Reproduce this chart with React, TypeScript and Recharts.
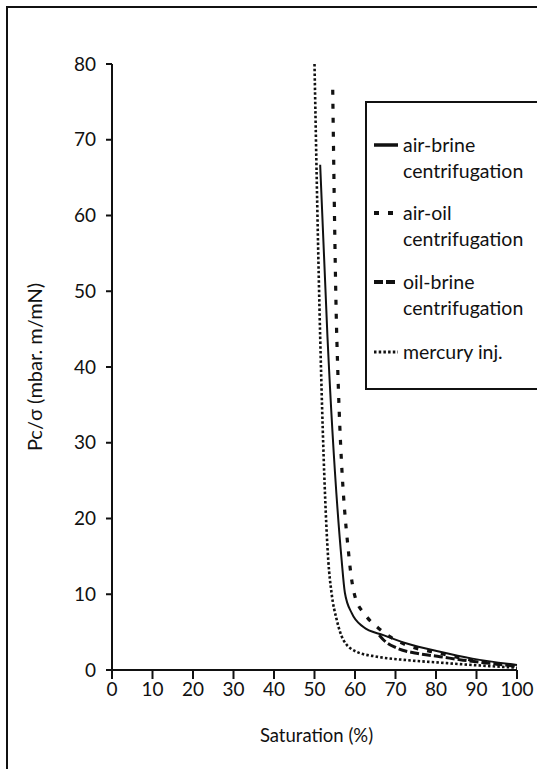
import React from 'react';
import { LineChart, Line, XAxis, YAxis } from 'recharts';

// Saturation (%) and Pc/σ values
const airBrineSw = [51.4, 53.2, 56.7, 57.5, 59.2, 62, 67, 72.8, 81, 89, 100];
const airBrinePc = [66.7, 44, 14.5, 10.2, 7.5, 5.7, 4.6, 3.5, 2.4, 1.5, 0.66];

const airOilSw = [54.5, 55.5, 58.6, 60, 62.5, 65.4, 68.6, 72.7, 81, 89, 100];
const airOilPc = [76.6, 44, 14.5, 9.7, 7.3, 5.7, 4.4, 3.3, 2.2, 1.3, 0.5];

const oilBrineSw = [66, 67, 70.3, 75.2, 81, 86.7, 93.3, 100];
const oilBrinePc = [4.6, 4.0, 2.9, 2.2, 1.76, 1.3, 0.88, 0.5];

const mercurySw = [50.0, 51.4, 53.4, 54.2, 55.5, 57.1, 60.4, 65.4, 72.8, 81, 89, 100];
const mercuryPc = [80, 44, 14.5, 10.2, 6.6, 4.0, 2.4, 1.76, 1.3, 0.97, 0.66, 0.3];

const xTicks = [0, 10, 20, 30, 40, 50, 60, 70, 80, 90, 100];
const yTicks = [0, 10, 20, 30, 40, 50, 60, 70, 80];

const seriesNames = ['air-brine', 'air-oil', 'oil-brine', 'mercury inj.'];
const seriesSubtitles = ['centrifugation', 'centrifugation', 'centrifugation', ''];

const zip = (sw: number[], pc: number[]) => sw.map((s, i) => ({ s, pc: pc[i] }));

const FONT = 'Lato, "Open Sans", sans-serif';
const INK = '#111';

const series = [
  { name: seriesNames[0], sub: seriesSubtitles[0], data: zip(airBrineSw, airBrinePc), dash: undefined as string | undefined, width: 2 },
  { name: seriesNames[1], sub: seriesSubtitles[1], data: zip(airOilSw, airOilPc), dash: '5 9', width: 3.2 },
  { name: seriesNames[2], sub: seriesSubtitles[2], data: zip(oilBrineSw, oilBrinePc), dash: '9 3', width: 3 },
  { name: seriesNames[3], sub: seriesSubtitles[3], data: zip(mercurySw, mercuryPc), dash: '2.5 2.2', width: 2.6 },
];

const legendTops = [29, 97, 166, 236];

export default function App() {
  return (
    <div style={{ position: 'absolute', left: 0, top: 0, width: 537, height: 769, background: '#fff', overflow: 'hidden', fontFamily: FONT }}>
      <div style={{ position: 'absolute', left: 6, top: 6, width: 560, height: 800, borderLeft: `2px solid ${INK}`, borderTop: `2px solid ${INK}` }} />
      <LineChart width={537} height={769} margin={{ top: 64, right: 20, bottom: 0, left: 0 }}>
        <XAxis
          type="number"
          dataKey="s"
          domain={[0, 100]}
          ticks={xTicks}
          interval={0}
          height={99}
          stroke={INK}
          strokeWidth={2}
          tickSize={9}
          tickMargin={4}
          tick={{ fill: INK, fontSize: 19, fontFamily: FONT }}
          allowDuplicatedCategory={false}
          label={{ value: 'Saturation (%)', position: 'insideBottom', offset: 27, dx: 2, style: { fill: INK, fontSize: 18.5, fontFamily: FONT } }}
        />
        <YAxis
          type="number"
          dataKey="pc"
          domain={[0, 80]}
          ticks={yTicks}
          interval={0}
          width={112}
          stroke={INK}
          strokeWidth={2}
          tickSize={6}
          tickMargin={10}
          tick={{ fill: INK, fontSize: 19, fontFamily: FONT }}
          label={{ value: 'Pc/σ (mbar. m/mN)', angle: -90, position: 'insideLeft', offset: 35, style: { textAnchor: 'middle', fill: INK, fontSize: 20, fontFamily: FONT } }}
        />
        {series.map((sr) => (
          <Line
            key={sr.name}
            data={sr.data}
            dataKey="pc"
            name={sr.name}
            type="monotone"
            stroke={INK}
            strokeWidth={sr.width}
            strokeDasharray={sr.dash}
            dot={false}
            activeDot={false}
            isAnimationActive={false}
          />
        ))}
      </LineChart>
      <div style={{ position: 'absolute', left: 365, top: 101, width: 190, height: 285, border: `2px solid ${INK}`, background: '#fff' }}>
        {series.map((sr, i) => (
          <div key={sr.name} style={{ position: 'absolute', left: 0, top: legendTops[i], width: 190 }}>
            <svg width={30} height={26} style={{ position: 'absolute', left: 5, top: 0 }}>
              <line x1={2} y1={13} x2={26} y2={13} stroke={INK} strokeWidth={sr.dash ? (i === 3 ? 3 : 4) : 3.5} strokeDasharray={sr.dash} />
            </svg>
            <div style={{ position: 'absolute', left: 36, top: 0, fontSize: 19.5, lineHeight: '26px', color: INK, whiteSpace: 'nowrap' }}>
              <div>{sr.name}</div>
              {sr.sub ? <div>{sr.sub}</div> : null}
            </div>
          </div>
        ))}
      </div>
    </div>
  );
}
